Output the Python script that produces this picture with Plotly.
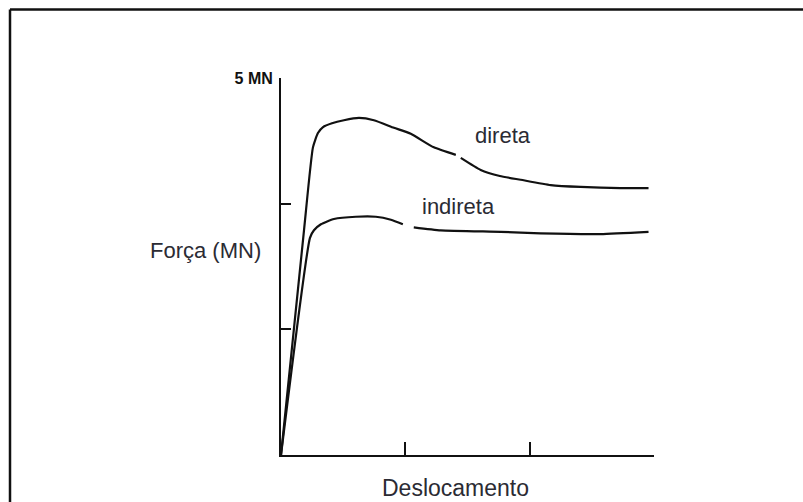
import plotly.graph_objects as go

# Data (displacement in tick units, force in MN); None marks the gaps in the drawn curves
direta_x = [0.0, 0.185, 0.257, 0.297, 0.338, 0.410, 0.506, 0.627, 0.747, 0.908, 1.044, 1.229, 1.406, None,
            1.446, 1.606, 1.760, 1.928, 2.169, 2.410, 2.730, 2.956]
direta_y = [0.0, 2.98, 4.08, 4.27, 4.35, 4.40, 4.44, 4.47, 4.44, 4.34, 4.26, 4.08, 3.98, None,
            3.94, 3.78, 3.70, 3.65, 3.58, 3.555, 3.54, 3.54]

indireta_x = [0.0, 0.233, 0.265, 0.321, 0.426, 0.602, 0.763, 0.884, 0.980, None,
              1.068, 1.285, 1.767, 2.088, 2.570, 2.956]
indireta_y = [0.0, 2.88, 2.98, 3.06, 3.13, 3.16, 3.16, 3.12, 3.06, None,
              3.02, 2.98, 2.96, 2.94, 2.93, 2.96]

x_ticks = [1, 2, 3]
y_ticks = [1.67, 3.33, 5.0]
y_tick_text = ["", "", "5 MN"]

W, H = 803, 502
L, R, T, B = 281, 803 - 654, 78, 502 - 455
PW, PH = W - L - R, H - T - B


def px(xp):
    return (xp - L) / PW


def py(yp):
    return (H - B - yp) / PH


fig = go.Figure()
fig.add_trace(go.Scatter(x=direta_x, y=direta_y, mode="lines", connectgaps=False,
                         line=dict(color="#111111", width=2.2, shape="spline", smoothing=0.5),
                         name="direta", showlegend=False, hoverinfo="skip"))
fig.add_trace(go.Scatter(x=indireta_x, y=indireta_y, mode="lines", connectgaps=False,
                         line=dict(color="#111111", width=2.2, shape="spline", smoothing=0.5),
                         name="indireta", showlegend=False, hoverinfo="skip"))

txt = "#2b2b33"
font = "Arial, Liberation Sans, sans-serif"
fig.update_layout(
    width=W, height=H,
    margin=dict(l=L, r=R, t=T, b=B, pad=0),
    paper_bgcolor="white", plot_bgcolor="white",
    xaxis=dict(range=[0, 3], tickvals=x_ticks, ticktext=["", "", ""], ticks="inside",
               ticklen=13, tickwidth=2, tickcolor="#111", showgrid=False, zeroline=False,
               showline=True, linecolor="#111", linewidth=2),
    yaxis=dict(range=[0, 5], tickvals=y_ticks, ticktext=y_tick_text, ticks="inside",
               ticklen=10, tickwidth=2, tickcolor="#111", showgrid=False, zeroline=False,
               showline=True, linecolor="#111", linewidth=2,
               tickfont=dict(family=font, size=16, color="#111", weight="bold"),
               ticklabelstandoff=3),
    annotations=[
        dict(x=px(503), y=py(135), xref="paper", yref="paper", text="direta", showarrow=False,
             xanchor="center", yanchor="middle", font=dict(family=font, size=22, color=txt)),
        dict(x=px(458), y=py(206), xref="paper", yref="paper", text="indireta", showarrow=False,
             xanchor="center", yanchor="middle", font=dict(family=font, size=22, color=txt)),
        dict(x=px(205), y=py(250), xref="paper", yref="paper", text="Força (MN)", showarrow=False,
             xanchor="center", yanchor="middle", font=dict(family=font, size=22, color=txt)),
        dict(x=px(455), y=py(488), xref="paper", yref="paper", text="Deslocamento", showarrow=False,
             xanchor="center", yanchor="middle", font=dict(family=font, size=23, color=txt)),
    ],
    shapes=[
        dict(type="line", xref="paper", yref="paper",
             x0=px(10), x1=px(803), y0=py(9.5), y1=py(9.5),
             line=dict(color="#111", width=2.5), layer="below"),
        dict(type="line", xref="paper", yref="paper",
             x0=px(10), x1=px(10), y0=py(9.5), y1=py(502),
             line=dict(color="#111", width=2.5), layer="below"),
    ],
)
fig.write_html("out.html", config={"displayModeBar": False},
               post_script="document.body.style.margin='0';document.body.style.overflow='hidden';")
